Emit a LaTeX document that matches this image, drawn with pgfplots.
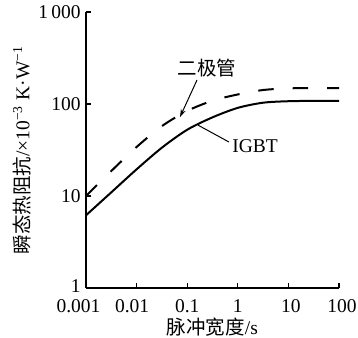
\documentclass[border=0pt]{standalone}
\usepackage{pgfplots}
\pgfplotsset{compat=1.18}
\usetikzlibrary{arrows.meta}
\usepackage{fontspec}
\setmainfont{Liberation Serif}
\newfontfamily\cjk{Noto Sans CJK SC}
\begin{document}
\fontsize{9.75pt}{12pt}\selectfont
\begin{tikzpicture}
\begin{axis}[
  scale only axis, width=126.5pt, height=138pt,
  xmode=log, ymode=log,
  xmin=0.001, xmax=100, ymin=1, ymax=1000,
  axis lines*=left,
  axis line style={line width=0.75pt, -},
  tick style={line width=0.6pt, black},
  major tick length=2.5pt,
  tick align=inside,
  xminorticks=false, yminorticks=false,
  xtick={0.001,0.01,0.1,1,10,100},
  xticklabels={\makebox[0pt]{\kern-7.5pt 0.001},\makebox[0pt]{\kern-4.5pt 0.01},0.1,1,\makebox[0pt]{\kern2.5pt 10},\makebox[0pt]{\kern3pt 100}},
  ytick={1,10,100,1000},
  yticklabels={\raisebox{1.5pt}{1},10,100,1\,000},
  /pgf/number format/assume math mode=true,
  xticklabel style={yshift=-2.5pt},
  yticklabel style={xshift=0.75pt},
  xlabel={{\cjk 脉冲宽度}/s},
  ylabel={{\cjk 瞬态热阻抗}/×10\textsuperscript{−3} K·W\textsuperscript{−1}},
  xlabel style={at={(axis description cs:0.5,-0.1413)}, anchor=center},
  ylabel style={at={(axis description cs:-0.253,0.5)}, anchor=center},
]
\addplot[black, line width=1pt, smooth] coordinates {
  (0.001,6.17) (0.003162,10.96) (0.01,19.5) (0.03162,33.5) (0.1,52.5)
  (0.3162,71.6) (1,90.8) (3.162,103.3) (10,107.2) (31.62,108.1) (100,108.1)
};
\addplot[black, line width=1pt, smooth, dash pattern=on 7.75pt off 9.5pt] coordinates {
  (0.001,10) (0.003162,18.7) (0.01,34.1) (0.03162,57.5) (0.1,84.1)
  (0.3162,108.6) (1,127) (3.162,141.9) (10,147.9) (31.62,148.6) (100,148.6)
};
\node[font=\cjk] at (axis cs:0.246,246) {二极管};
\draw[line width=0.5pt, -{Stealth[length=4pt,width=2.5pt]}] (axis cs:0.156,182) -- (axis cs:0.072,72);
\node at (axis cs:2.19,35) {IGBT};
\draw[line width=0.5pt] (axis cs:0.67,38.6) -- (axis cs:0.163,59);
\coordinate (sw) at (rel axis cs:0,0);
\coordinate (ne) at (rel axis cs:1,1);
\end{axis}
\pgfresetboundingbox
\path[use as bounding box] ([shift={(-43pt,-24.5pt)}]sw) rectangle ([shift={(9.5pt,6pt)}]ne);
\end{tikzpicture}
\end{document}
